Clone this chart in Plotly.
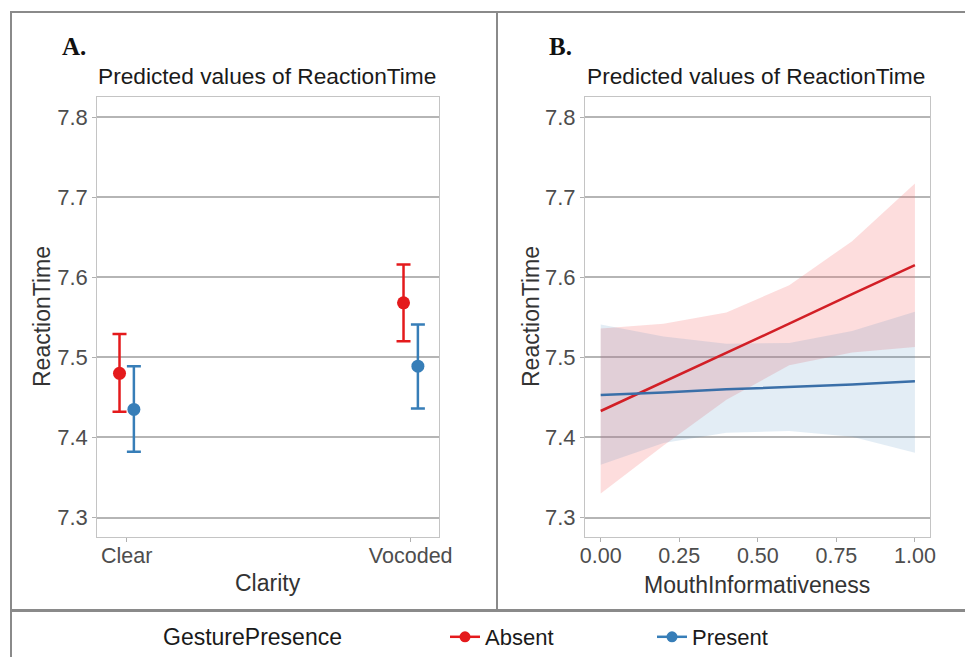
import plotly.graph_objects as go

W, H = 973, 657
OFF = 8  # page body margin offset

# ---------------- data ----------------
clarity = ["Clear", "Vocoded"]
groups = ["Absent", "Present"]
pred_absent = [7.480, 7.568]
lo_absent = [7.432, 7.520]
hi_absent = [7.529, 7.616]
pred_present = [7.435, 7.489]
lo_present = [7.382, 7.436]
hi_present = [7.489, 7.541]

mouth = [0.0, 0.2, 0.4, 0.6, 0.8, 1.0]
fit_absent = [7.433, 7.469, 7.506, 7.542, 7.579, 7.615]
upr_absent = [7.536, 7.542, 7.556, 7.590, 7.645, 7.717]
lwr_absent = [7.330, 7.390, 7.447, 7.490, 7.506, 7.513]
fit_present = [7.453, 7.456, 7.460, 7.463, 7.466, 7.470]
upr_present = [7.541, 7.526, 7.517, 7.518, 7.533, 7.557]
lwr_present = [7.366, 7.393, 7.406, 7.408, 7.401, 7.381]

y_ticks = [7.3, 7.4, 7.5, 7.6, 7.7, 7.8]
mouth_ticks = [0.0, 0.25, 0.5, 0.75, 1.0]
mouth_ticklabels = ["0.00", "0.25", "0.50", "0.75", "1.00"]

RED = "#E41A1C"
BLUE = "#377EB8"
FONT = "Liberation Sans"


def px(x):
    return (x - OFF) / W


def py(y):
    return 1 - (y - OFF) / H


fig = go.Figure()

# ---------------- panel A ----------------
dodge = 0.0253
xpos = list(range(len(clarity)))
fig.add_trace(go.Scatter(
    x=[v - dodge for v in xpos], y=pred_absent, mode="markers",
    marker=dict(color=RED, size=13),
    error_y=dict(type="data", symmetric=False,
                 array=[h - p for h, p in zip(hi_absent, pred_absent)],
                 arrayminus=[p - l for p, l in zip(pred_absent, lo_absent)],
                 color=RED, thickness=2.5, width=7),
    xaxis="x", yaxis="y", showlegend=False, hoverinfo="skip"))
fig.add_trace(go.Scatter(
    x=[v + dodge for v in xpos], y=pred_present, mode="markers",
    marker=dict(color=BLUE, size=13),
    error_y=dict(type="data", symmetric=False,
                 array=[h - p for h, p in zip(hi_present, pred_present)],
                 arrayminus=[p - l for p, l in zip(pred_present, lo_present)],
                 color=BLUE, thickness=2.5, width=7),
    xaxis="x", yaxis="y", showlegend=False, hoverinfo="skip"))

# ---------------- panel B ----------------
fig.add_trace(go.Scatter(x=mouth, y=lwr_absent, mode="lines", line=dict(width=0),
                         xaxis="x2", yaxis="y2", showlegend=False, hoverinfo="skip"))
fig.add_trace(go.Scatter(x=mouth, y=upr_absent, mode="lines", line=dict(width=0),
                         fill="tonexty", fillcolor="rgba(248,118,118,0.25)",
                         xaxis="x2", yaxis="y2", showlegend=False, hoverinfo="skip"))
fig.add_trace(go.Scatter(x=mouth, y=lwr_present, mode="lines", line=dict(width=0),
                         xaxis="x2", yaxis="y2", showlegend=False, hoverinfo="skip"))
fig.add_trace(go.Scatter(x=mouth, y=upr_present, mode="lines", line=dict(width=0),
                         fill="tonexty", fillcolor="rgba(55,126,184,0.14)",
                         xaxis="x2", yaxis="y2", showlegend=False, hoverinfo="skip"))
fig.add_trace(go.Scatter(x=mouth, y=fit_absent, mode="lines",
                         line=dict(color="#D21F26", width=2.5),
                         xaxis="x2", yaxis="y2", showlegend=False, hoverinfo="skip"))
fig.add_trace(go.Scatter(x=mouth, y=fit_present, mode="lines",
                         line=dict(color="#3A6FA8", width=2.5),
                         xaxis="x2", yaxis="y2", showlegend=False, hoverinfo="skip"))

# legend entries
for name, col in zip(groups, [RED, BLUE]):
    fig.add_trace(go.Scatter(x=[None], y=[None], mode="lines+markers", name=name,
                             line=dict(color=col, width=2.5),
                             marker=dict(color=col, size=11),
                             xaxis="x", yaxis="y", showlegend=True))

# ---------------- axes ----------------
ydom = [py(537), py(97)]
yrange = [7.2757, 7.825]
common_y = dict(range=yrange, tickvals=y_ticks, ticktext=[f"{v:.1f}" for v in y_ticks],
                showgrid=True, gridcolor="#B5B5B5", gridwidth=1.6,
                ticks="outside", ticklen=4, tickcolor="#B0B0B0", tickwidth=1.2,
                tickfont=dict(family=FONT, size=22, color="#4D4D4D"),
                showline=True, linecolor="#C4C4C4", linewidth=1.2, mirror=True,
                zeroline=False, domain=ydom, fixedrange=True, automargin=False)
common_x = dict(showgrid=False, ticks="outside", ticklen=4, tickcolor="#B0B0B0", tickwidth=1.2,
                tickfont=dict(family=FONT, size=21.5, color="#4D4D4D"),
                ticklabelstandoff=-5,
                showline=True, linecolor="#C4C4C4", linewidth=1.2, mirror=True,
                zeroline=False, fixedrange=True, automargin=False)

fig.update_layout(
    template="none",
    width=W, height=H,
    margin=dict(l=0, r=0, t=0, b=0, autoexpand=False),
    paper_bgcolor="white", plot_bgcolor="white",
    xaxis=dict(common_x, domain=[px(97.3), px(439.3)], range=[-0.1035, 1.1007],
               tickvals=xpos, ticktext=clarity),
    yaxis=dict(common_y, anchor="x"),
    xaxis2=dict(common_x, domain=[px(585), px(930)], range=[-0.05, 1.048],
                tickvals=mouth_ticks, ticktext=mouth_ticklabels, anchor="y2"),
    yaxis2=dict(common_y, anchor="x2"),
    showlegend=True,
    legend=dict(orientation="h", x=px(445), y=py(637), xanchor="left", yanchor="middle",
                traceorder="normal",
                font=dict(family=FONT, size=22, color="#1A1A1A"),
                entrywidth=162, entrywidthmode="pixels",
                bgcolor="rgba(0,0,0,0)"),
)

ann = []


def add_text(text, x, y, size, color="#1A1A1A", family=FONT, xanchor="center", angle=0):
    ann.append(dict(text=text, x=px(x), y=py(y), xref="paper", yref="paper",
                    xanchor=xanchor, yanchor="middle", showarrow=False, textangle=angle,
                    font=dict(family=family, size=size, color=color)))


add_text("<b>A.</b>", 60, 47, 25, color="#111111", family="Liberation Serif", xanchor="left")
add_text("<b>B.</b>", 547, 47, 25, color="#111111", family="Liberation Serif", xanchor="left")
add_text("Predicted values of ReactionTime", 96, 76, 22.7, xanchor="left")
add_text("Predicted values of ReactionTime", 585, 76, 22.7, xanchor="left")
add_text("ReactionTime", 42, 317, 23, color="#333333", angle=-90)
add_text("ReactionTime", 531, 317, 23, color="#333333", angle=-90)
add_text("Clarity", 268, 583, 23, color="#333333")
add_text("MouthInformativeness", 757, 585, 23, color="#333333")
add_text("GesturePresence", 161, 637, 23, xanchor="left")
fig.update_layout(annotations=ann)

# frame lines
FRAME = "#8A8A8A"
shapes = [
    dict(type="line", xref="paper", yref="paper", x0=px(10), x1=px(990), y0=py(12), y1=py(12),
         line=dict(color=FRAME, width=2)),
    dict(type="line", xref="paper", yref="paper", x0=px(11), x1=px(11), y0=py(12), y1=py(670),
         line=dict(color=FRAME, width=2)),
    dict(type="line", xref="paper", yref="paper", x0=px(497), x1=px(497), y0=py(12), y1=py(610),
         line=dict(color=FRAME, width=2)),
    dict(type="line", xref="paper", yref="paper", x0=px(10), x1=px(990), y0=py(610.5), y1=py(610.5),
         line=dict(color=FRAME, width=3)),
]
fig.update_layout(shapes=shapes)

fig.write_html("out.html")
